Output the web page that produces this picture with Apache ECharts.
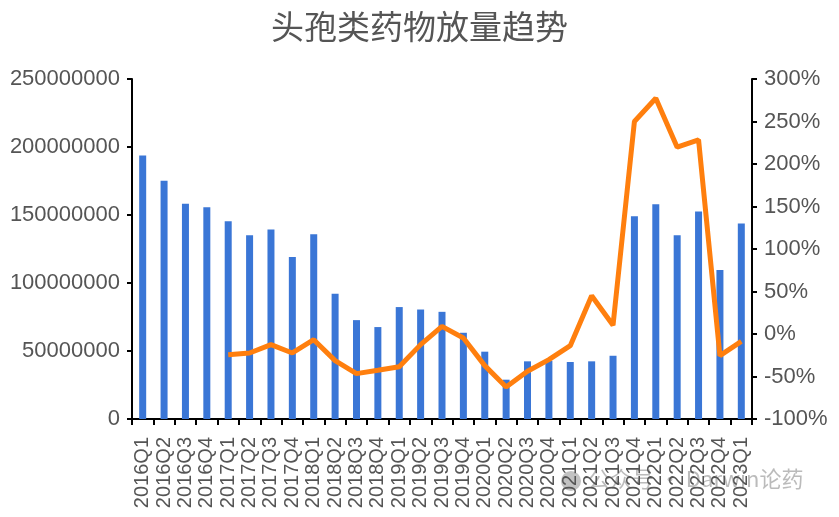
<!DOCTYPE html>
<html>
<head>
<meta charset="utf-8">
<script src="https://cdn.jsdelivr.net/npm/echarts@6/dist/echarts.min.js"></script>
<style>
html,body{margin:0;padding:0;background:#fff;}
#c{width:839px;height:517px;}
</style>
</head>
<body>
<div id="c"></div>
<script>
const categories = ['2016Q1','2016Q2','2016Q3','2016Q4','2017Q1','2017Q2','2017Q3','2017Q4','2018Q1','2018Q2','2018Q3','2018Q4','2019Q1','2019Q2','2019Q3','2019Q4','2020Q1','2020Q2','2020Q3','2020Q4','2021Q1','2021Q2','2021Q3','2021Q4','2022Q1','2022Q2','2022Q3','2022Q4','2023Q1'];
const volume = [193700000,175100000,158200000,155700000,145400000,135200000,139300000,119200000,135900000,92100000,72700000,67600000,82300000,80500000,78800000,63400000,49500000,28900000,42400000,42800000,41900000,42400000,46500000,149100000,157900000,135200000,152500000,109500000,143700000];
const growth = [null,null,null,null,-24.3,-22.3,-12.5,-22.3,-6.7,-31.3,-46.6,-42.7,-38.5,-12.5,9.0,-4.7,-37.2,-62.3,-43.9,-30.2,-13.7,45.1,10.2,250.0,277.4,219.8,228.4,-25.5,-8.6];
const leftTicks = {min:0,max:250000000,interval:50000000};
const rightTicks = {min:-100,max:300,interval:50};

const chart = echarts.init(document.getElementById('c'));
const axisLineStyle = {color:'#000',width:2};
chart.setOption({
  animation:false,
  backgroundColor:'#fff',
  title:{text:'头孢类药物放量趋势',left:'center',top:5,textStyle:{fontSize:33,fontWeight:'normal',color:'#555',fontFamily:'Noto Sans CJK SC'}},
  grid:{left:132,right:87,top:79,bottom:98},
  xAxis:{type:'category',data:categories,boundaryGap:true,
    axisLine:{lineStyle:axisLineStyle},
    axisTick:{show:true,length:6,lineStyle:{color:'#000',width:2}},
    axisLabel:{interval:0,rotate:90,margin:18,fontSize:20,color:'#555',fontFamily:'Liberation Sans'}},
  yAxis:[
    {type:'value',min:leftTicks.min,max:leftTicks.max,interval:leftTicks.interval,
     axisLine:{show:true,lineStyle:axisLineStyle},
     axisTick:{show:true,length:5,lineStyle:{color:'#000',width:2}},
     splitLine:{show:false},
     axisLabel:{fontSize:22,color:'#555',margin:12,fontFamily:'Liberation Sans',formatter:function(v){return String(v);}}},
    {type:'value',min:rightTicks.min,max:rightTicks.max,interval:rightTicks.interval,position:'right',
     axisLine:{show:true,lineStyle:axisLineStyle},
     axisTick:{show:true,length:5,lineStyle:{color:'#000',width:2}},
     splitLine:{show:false},
     axisLabel:{fontSize:22,color:'#555',margin:12,formatter:'{value}%',fontFamily:'Liberation Sans'}}
  ],
  series:[
    {type:'bar',data:volume,barWidth:7,itemStyle:{color:'#3a76d6'},yAxisIndex:0},
    {type:'line',data:growth,yAxisIndex:1,showSymbol:false,symbol:'none',lineStyle:{color:'#ff7f0e',width:5},itemStyle:{color:'#ff7f0e'},connectNulls:false}
  ],
  graphic:[
    {type:'circle',shape:{cx:571,cy:481,r:10},style:{fill:'rgba(120,120,120,0.45)'}},
    {type:'text',left:588,top:468,style:{text:'公众号 · Darwin论药',fontSize:22,fill:'rgba(120,120,120,0.5)',fontFamily:'Noto Sans CJK SC'}}
  ]
});
</script>
</body>
</html>
